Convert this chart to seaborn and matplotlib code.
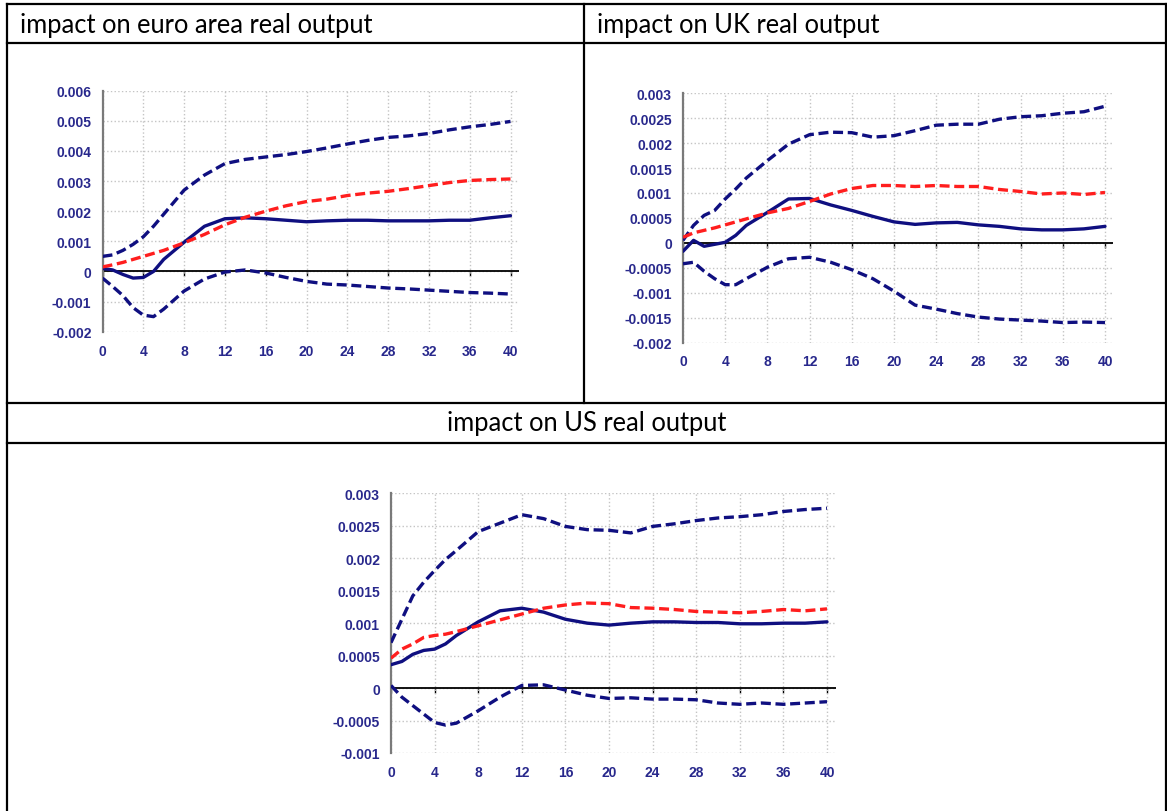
import numpy as np
import pandas as pd
import matplotlib
matplotlib.use("Agg")
import matplotlib.pyplot as plt
import seaborn as sns
from matplotlib.lines import Line2D

# ---------------- data ----------------
quarters = [0, 1, 2, 3, 4, 5, 6, 8, 10, 12, 14, 16, 18, 20, 22, 24, 26, 28, 30, 32, 34, 36, 38, 40]

ea_upper = [0.0005, 0.00055, 0.0007, 0.0009, 0.00115, 0.0015, 0.0019, 0.0027, 0.0032, 0.00358, 0.00372, 0.0038,
            0.00388, 0.00398, 0.0041, 0.00423, 0.00435, 0.00445, 0.0045, 0.00458, 0.0047, 0.0048, 0.00488, 0.00498]
ea_median = [0.0001, 0.00005, -0.0001, -0.00022, -0.0002, 0.0, 0.0004, 0.00097, 0.0015, 0.00175, 0.00178, 0.00175,
             0.0017, 0.00165, 0.00168, 0.0017, 0.0017, 0.00168, 0.00168, 0.00168, 0.0017, 0.0017, 0.00178, 0.00185]
ea_lower = [-0.00022, -0.0005, -0.0008, -0.0012, -0.00145, -0.0015, -0.00125, -0.00065, -0.00025, -0.00002, 0.00005,
            -0.00005, -0.0002, -0.00033, -0.00042, -0.00045, -0.0005, -0.00055, -0.00058, -0.00062, -0.00066, -0.0007,
            -0.00072, -0.00075]
ea_red = [0.00015, 0.00022, 0.0003, 0.0004, 0.0005, 0.0006, 0.0007, 0.00095, 0.00123, 0.00155, 0.0018, 0.002,
          0.00218, 0.00232, 0.0024, 0.00252, 0.0026, 0.00266, 0.00275, 0.00285, 0.00295, 0.00302, 0.00305, 0.00307]

uk_upper = [0.00005, 0.00035, 0.00055, 0.00065, 0.00088, 0.00108, 0.0013, 0.00165, 0.00198, 0.00217, 0.00222, 0.00221,
            0.00212, 0.00215, 0.00225, 0.00236, 0.00238, 0.00238, 0.00248, 0.00253, 0.00255, 0.0026, 0.00263, 0.00274]
uk_median = [-0.00017, 0.00005, -0.00007, -0.00003, 0.00001, 0.00015, 0.00035, 0.00061, 0.00088, 0.00089, 0.00076,
             0.00065, 0.00053, 0.00042, 0.00037, 0.0004, 0.00041, 0.00036, 0.00033, 0.00028, 0.00026, 0.00026,
             0.00028, 0.00033]
uk_lower = [-0.00042, -0.00039, -0.00057, -0.00072, -0.00084, -0.00084, -0.00072, -0.00049, -0.00032, -0.00029,
            -0.00039, -0.00054, -0.00072, -0.00097, -0.00125, -0.00133, -0.00142, -0.00149, -0.00153, -0.00155,
            -0.00157, -0.0016, -0.00159, -0.0016]
uk_red = [0.00011, 0.0002, 0.00025, 0.0003, 0.00036, 0.00042, 0.00048, 0.0006, 0.00069, 0.00083, 0.00098, 0.00109,
          0.00115, 0.00115, 0.00113, 0.00115, 0.00113, 0.00113, 0.00107, 0.00103, 0.00098, 0.001, 0.00097, 0.00101]

us_upper = [0.0007, 0.00106, 0.00142, 0.00163, 0.00181, 0.00198, 0.00212, 0.00241, 0.00254, 0.00267, 0.00261, 0.00249,
            0.00244, 0.00243, 0.00239, 0.00249, 0.00253, 0.00258, 0.00262, 0.00264, 0.00267, 0.00272, 0.00275, 0.00277]
us_median = [0.00036, 0.00041, 0.00052, 0.00058, 0.0006, 0.00068, 0.00081, 0.00102, 0.00119, 0.00123, 0.00117, 0.00106,
             0.001, 0.00097, 0.001, 0.00102, 0.00102, 0.00101, 0.00101, 0.00099, 0.00099, 0.001, 0.001, 0.00102]
us_lower = [0.00004, -0.00014, -0.00027, -0.0004, -0.00053, -0.00057, -0.00054, -0.00035, -0.00014, 0.00004, 0.00005,
            -0.00003, -0.00011, -0.00016, -0.00015, -0.00017, -0.00017, -0.00018, -0.00023, -0.00025, -0.00023,
            -0.00025, -0.00023, -0.00021]
us_red = [0.00046, 0.0006, 0.00068, 0.00078, 0.00081, 0.00083, 0.00087, 0.00096, 0.00105, 0.00114, 0.00123, 0.00128,
          0.00131, 0.0013, 0.00124, 0.00123, 0.00121, 0.00118, 0.00117, 0.00116, 0.00118, 0.00121, 0.00119, 0.00122]

x_ticks = [0, 4, 8, 12, 16, 20, 24, 28, 32, 36, 40]
ea_yticks = [-0.002, -0.001, 0, 0.001, 0.002, 0.003, 0.004, 0.005, 0.006]
ea_ylabels = ["-0.002", "-0.001", "0", "0.001", "0.002", "0.003", "0.004", "0.005", "0.006"]
uk_yticks = [-0.002, -0.0015, -0.001, -0.0005, 0, 0.0005, 0.001, 0.0015, 0.002, 0.0025, 0.003]
uk_ylabels = ["-0.002", "-0.0015", "-0.001", "-0.0005", "0", "0.0005", "0.001", "0.0015", "0.002", "0.0025", "0.003"]
us_yticks = [-0.001, -0.0005, 0, 0.0005, 0.001, 0.0015, 0.002, 0.0025, 0.003]
us_ylabels = ["-0.001", "-0.0005", "0", "0.0005", "0.001", "0.0015", "0.002", "0.0025", "0.003"]

titles = ["impact on euro area real output", "impact on UK real output", "impact on US real output"]

# ---------------- style ----------------
sns.set_style("white")
plt.rcParams["font.family"] = ["Liberation Sans", "DejaVu Sans"]

W, H = 1167, 812
fig = plt.figure(figsize=(W / 100, H / 100), dpi=100)
fig.patch.set_facecolor("white")

NAVY = "#0F0F80"
RED = "#FF1E1E"
LABEL = "#28288C"
DASH = (0, (3.0, 1.4))
LW = 2.4


def add_axes_px(left, right, top, bottom):
    return fig.add_axes([left / W, 1 - bottom / H, (right - left) / W, (bottom - top) / H])


def draw_panel(ax, upper, median, lower, red, yticks, ylabels):
    df = pd.DataFrame({"q": quarters, "upper": upper, "median": median, "lower": lower, "red": red})
    sns.lineplot(data=df, x="q", y="upper", ax=ax, color=NAVY, linewidth=LW, linestyle=DASH, zorder=3)
    sns.lineplot(data=df, x="q", y="lower", ax=ax, color=NAVY, linewidth=LW, linestyle=DASH, zorder=3)
    sns.lineplot(data=df, x="q", y="red", ax=ax, color=RED, linewidth=LW, linestyle=DASH, zorder=4)
    sns.lineplot(data=df, x="q", y="median", ax=ax, color=NAVY, linewidth=LW, linestyle="-", zorder=3)
    ax.set_xlim(0, 40.8)
    ax.set_ylim(yticks[0], yticks[-1])
    ax.set_xticks(x_ticks)
    ax.set_xticklabels([str(t) for t in x_ticks])
    ax.set_yticks(yticks)
    ax.set_yticklabels(ylabels)
    ax.set_xlabel("")
    ax.set_ylabel("")
    ax.grid(True, color="#C4C4C4", linestyle=":", linewidth=1.0, zorder=0)
    ax.set_axisbelow(True)
    for s in ["top", "right", "bottom"]:
        ax.spines[s].set_visible(False)
    ax.spines["left"].set_color("#7A7A7A")
    ax.spines["left"].set_linewidth(1.6)
    ax.tick_params(axis="x", length=0, pad=8.5, labelsize=10, labelcolor=LABEL)
    ax.tick_params(axis="y", length=3.5, width=1.2, color="#333333", pad=4.5, labelsize=10, labelcolor=LABEL)
    for lab in ax.get_xticklabels() + ax.get_yticklabels():
        lab.set_fontweight("bold")
    # zero line with small downward ticks
    zero_frac = (0 - yticks[0]) / (yticks[-1] - yticks[0])
    sec = ax.secondary_xaxis(zero_frac)
    sec.set_xticks(x_ticks)
    sec.tick_params(axis="x", direction="out", length=3.5, width=1.0, color="black", labelbottom=False,
                    labeltop=False)
    for s in sec.spines.values():
        s.set_visible(False)
    ax.axhline(0, color="black", linewidth=1.3, zorder=2)


ax1 = add_axes_px(102.5, 102.5 + 40.8 * 10.2, 91.7, 332.7)
draw_panel(ax1, ea_upper, ea_median, ea_lower, ea_red, ea_yticks, ea_ylabels)

ax2 = add_axes_px(683, 683 + 40.8 * 10.55, 94.3, 343.5)
draw_panel(ax2, uk_upper, uk_median, uk_lower, uk_red, uk_yticks, uk_ylabels)

ax3 = add_axes_px(391, 391 + 40.8 * 10.9, 494.3, 754)
draw_panel(ax3, us_upper, us_median, us_lower, us_red, us_yticks, us_ylabels)

# ---------------- table borders ----------------
def hline(y, x0, x1):
    fig.add_artist(Line2D([x0 / W, x1 / W], [1 - y / H, 1 - y / H], transform=fig.transFigure,
                          color="black", linewidth=1.6, solid_capstyle="projecting"))


def vline(x, y0, y1):
    fig.add_artist(Line2D([x / W, x / W], [1 - y0 / H, 1 - y1 / H], transform=fig.transFigure,
                          color="black", linewidth=1.6, solid_capstyle="projecting"))


hline(5, 6.5, 1165.5)
hline(43.5, 6.5, 1165.5)
hline(404, 6.5, 1165.5)
hline(443.5, 6.5, 1165.5)
vline(6.5, 5, 812)
vline(1165.5, 5, 812)
vline(584, 5, 404)

title_font = dict(family=["Lato", "DejaVu Sans"], fontsize=18.4, color="black", va="center")
fig.text(20 / W, 1 - 25 / H, titles[0], ha="left", **title_font)
fig.text(597 / W, 1 - 25 / H, titles[1], ha="left", **title_font)
fig.text(587 / W, 1 - 424 / H, titles[2], ha="center", **title_font)

fig.savefig("out.png", dpi=100, facecolor="white")
